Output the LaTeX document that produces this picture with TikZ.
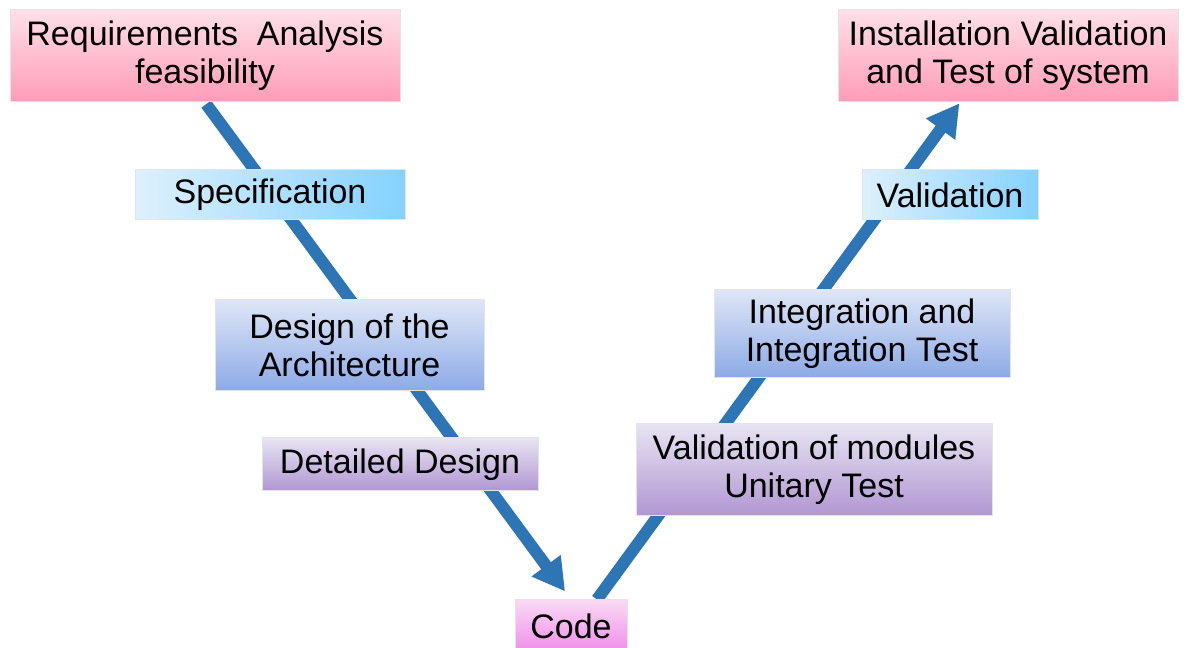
\documentclass[tikz,border=0pt]{standalone}
\usepackage{fontspec}
\setmainfont{Liberation Sans}
\usepackage{tikz}
\usetikzlibrary{arrows.meta,shapes}
\pgfdeclarelayer{background}
\pgfsetlayers{background,main}

\definecolor{vblue}{RGB}{46,117,182}
\definecolor{pinktop}{RGB}{255,224,232}
\definecolor{pinkbot}{RGB}{255,155,184}
\definecolor{cyanleft}{RGB}{222,240,252}
\definecolor{cyanright}{RGB}{132,210,255}
\definecolor{bluetl}{RGB}{222,230,247}
\definecolor{bluebr}{RGB}{140,170,230}
\definecolor{lilactop}{RGB}{232,228,242}
\definecolor{lilacbot}{RGB}{176,150,210}
\definecolor{magtop}{RGB}{250,218,246}
\definecolor{magbot}{RGB}{240,140,232}
\definecolor{boxline}{RGB}{228,228,228}

\begin{document}
\begin{tikzpicture}[>=latex,line join=bevel,
  box/.style={draw=boxline,line width=1bp,inner sep=0pt,align=center,
    font=\fontsize{34bp}{38bp}\selectfont},
  pinkbox/.style={box,top color=pinktop,bottom color=pinkbot},
  cyanbox/.style={box,left color=cyanleft,right color=cyanright},
  bluebox/.style={box,shading=axis,shading angle=45,top color=bluetl,bottom color=bluebr},
  lilacbox/.style={box,top color=lilactop,bottom color=lilacbot},
  magbox/.style={box,top color=magtop,bottom color=magbot},
  vline/.style={draw=vblue,line width=12bp,-{Triangle[length=32bp,width=34bp]}},
]
\useasboundingbox (0bp,0bp) rectangle (1187bp,648bp);

% Node: req
\node[pinkbox,minimum width=390bp,minimum height=92bp] (req) at (205bp,592bp)
  {Requirements\ \ Analysis\\feasibility};
% Node: spec
\node[cyanbox,minimum width=270bp,minimum height=50bp] (spec) at (270bp,453bp)
  {Specification};
% Node: arch
\node[bluebox,minimum width=269bp,minimum height=91bp] (arch) at (349.5bp,302.5bp)
  {Design of the\\Architecture};
% Node: ddes
\node[lilacbox,minimum width=276bp,minimum height=53bp] (ddes) at (400bp,183.5bp)
  {Detailed Design};
% Node: code
\node[magbox,minimum width=112bp,minimum height=52bp] (code) at (571bp,22bp)
  {Code};
% Node: unit
\node[lilacbox,minimum width=356bp,minimum height=92bp] (unit) at (814bp,178bp)
  {Validation of modules\\Unitary Test};
% Node: integ
\node[bluebox,minimum width=296bp,minimum height=88bp] (integ) at (862bp,314bp)
  {Integration and\\Integration Test};
% Node: valid
\node[cyanbox,minimum width=176bp,minimum height=50bp] (valid) at (950bp,453bp)
  {Validation};
% Node: inst
\node[pinkbox,minimum width=340bp,minimum height=92bp] (inst) at (1008bp,592bp)
  {Installation Validation\\and Test of system};

\begin{pgfonlayer}{background}
% Edge: req -> code
\draw [vline,shorten <=2bp,shorten >=10bp] (req.south) -- (code.north);
% Edge: code -> inst
\draw [vline,shorten >=1bp] ([xshift=26bp]code.north) -- ([xshift=-48bp]inst.south);
\end{pgfonlayer}
%
\end{tikzpicture}
\end{document}
